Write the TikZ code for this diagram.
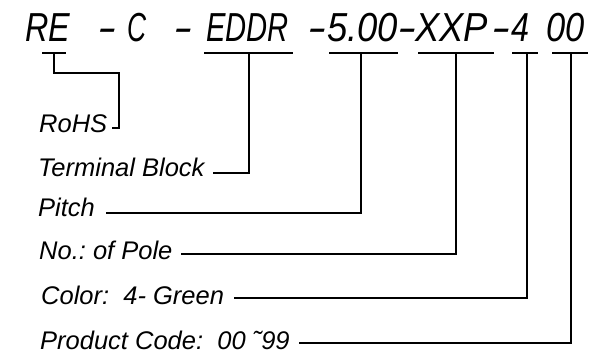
\documentclass[tikz,border=0pt]{standalone}
\usepackage{fontspec}
\setmainfont{Liberation Sans}
\frenchspacing
\begin{document}
\begin{tikzpicture}[x=1pt,y=-1pt,
  ttl/.style={inner sep=0pt, anchor=base west, font=\fontsize{40.5}{48}\selectfont\itshape},
  dsh/.style={inner sep=0pt, anchor=base, font=\fontsize{40.5}{48}\selectfont\itshape},
  lbl/.style={inner sep=0pt, anchor=base west, font=\fontsize{25.5}{30}\selectfont\itshape},
  ln/.style={line width=1.1pt, line cap=rect}]
\useasboundingbox (0,0) rectangle (607,355);
% title segments
\node[ttl] (tRE)   at (25,42)  {\scalebox{0.8}[1]{RE}};
\node[dsh] (d1)    at (107,42) {\scalebox{1.4}[1]{-}};
\node[ttl] (tC)    at (127,42) {\scalebox{0.65}[1]{C}};
\node[dsh] (d2)    at (183,42) {\scalebox{1.4}[1]{-}};
\node[ttl] (tEDDR) at (206,42) {\scalebox{0.72}[1]{EDDR}};
\node[dsh] (d3)    at (317,42) {\scalebox{1.4}[1]{-}};
\node[ttl] (tP)    at (327,42) {\scalebox{0.9}[1]{5.00}};
\node[dsh] (d4)    at (407,42) {\scalebox{1.4}[1]{-}};
\node[ttl] (tX)    at (415,42) {\scalebox{0.9}[1]{XXP}};
\node[dsh] (d5)    at (501,42) {\scalebox{1.4}[1]{-}};
\node[ttl] (t4)    at (511,42) {\scalebox{0.8}[1]{4}};
\node[ttl] (t00)   at (546,42) {\scalebox{0.85}[1]{00}};
% labels
\node[lbl] (lR) at (39,133) {RoHS};
\node[lbl] (lT) at (38,177) {Terminal Block};
\node[lbl] (lP) at (38,217) {Pitch};
\node[lbl] (lN) at (39,259) {No.: of Pole};
\node[lbl] (lC) at (41,304) {Color:\ \ 4- Green};
\node[lbl] (lD) at (40,349) {Product Code:\ \ 00 ˜99};
% underline coordinates
\coordinate (uRa) at (43,53);  \coordinate (uRb) at (65,53);  \coordinate (uRm) at (54,53);
\coordinate (uEa) at (205,53); \coordinate (uEb) at (292,53); \coordinate (uEm) at (249,53);
\coordinate (uPa) at (330,53); \coordinate (uPb) at (397,53); \coordinate (uPm) at (361,53);
\coordinate (uXa) at (419,53); \coordinate (uXb) at (493,53); \coordinate (uXm) at (456,53);
\coordinate (u4a) at (513,53); \coordinate (u4b) at (537,53); \coordinate (u4m) at (527,53);
\coordinate (u0a) at (553,53); \coordinate (u0b) at (587,53); \coordinate (u0m) at (571,53);
\coordinate (rB) at (54,73); \coordinate (rC) at (119,73);
% label line ends
\path ([xshift=5pt,yshift=5pt]lR.base east) coordinate (eR);
\path ([xshift=9pt,yshift=4pt]lT.base east) coordinate (eT);
\path ([xshift=11pt,yshift=4pt]lP.base east) coordinate (eP);
\path ([xshift=9pt,yshift=5pt]lN.base east) coordinate (eN);
\path ([xshift=10pt,yshift=6pt]lC.base east) coordinate (eC);
\path ([xshift=10pt,yshift=6pt]lD.base east) coordinate (eD);
% underlines
\draw[ln] (uRa) -- (uRb);
\draw[ln] (uEa) -- (uEb);
\draw[ln] (uPa) -- (uPb);
\draw[ln] (uXa) -- (uXb);
\draw[ln] (u4a) -- (u4b);
\draw[ln] (u0a) -- (u0b);
% connectors
\draw[ln] (uRm) -- (rB) -- (rC) -- (rC |- eR) -- (eR);
\draw[ln] (uEm) |- (eT);
\draw[ln] (uPm) |- (eP);
\draw[ln] (uXm) |- (eN);
\draw[ln] (u4m) |- (eC);
\draw[ln] (u0m) |- (eD);
\end{tikzpicture}
\end{document}
